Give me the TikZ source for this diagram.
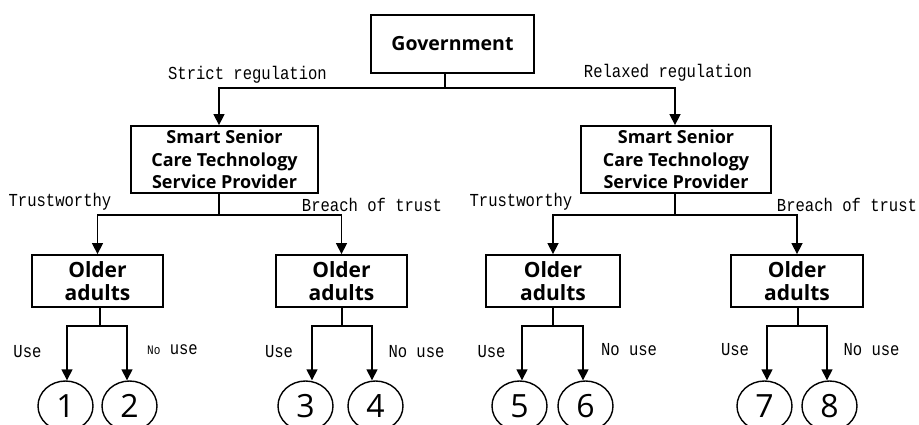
\documentclass[tikz,border=0pt]{standalone}
\usepackage{fontspec}
\usetikzlibrary{arrows.meta,shapes.geometric}
\newfontfamily\boxfont{Open Sans}
\newfontfamily\labfont{Liberation Mono}[FakeStretch=0.85]
\begin{document}
\begin{tikzpicture}[x=1pt,y=-1pt,
  box/.style={draw,line width=1.8pt,inner sep=0pt,align=center,
    font=\boxfont\bfseries\fontsize{18}{22.5}\selectfont},
  oval/.style={draw,ellipse,line width=1.4pt,minimum width=55pt,minimum height=50pt,inner sep=0pt,
    font=\boxfont\fontsize{32}{32}\selectfont},
  lab/.style={inner sep=0pt,font=\labfont\fontsize{18.3}{19}\selectfont},
  ln/.style={line width=1.5pt},
  arr/.style={line width=1.5pt,-{Triangle[length=11pt,width=11pt]}}]
\useasboundingbox (0,0) rectangle (919,425);
% nodes
\node[box,minimum width=163pt,minimum height=58pt,font=\boxfont\bfseries\fontsize{19.5}{22}\selectfont] (gov) at (452.5,44) {Government};
\node[box,minimum width=187pt,minimum height=67pt] (p1) at (224.5,159.5) {Smart Senior\\Care Technology\\Service Provider};
\node[box,minimum width=190pt,minimum height=67pt] (p2) at (676,159.5) {Smart Senior\\Care Technology\\Service Provider};
\tikzset{older/.style={box,minimum height=52pt,font=\boxfont\bfseries\fontsize{21}{23}\selectfont}}
\node[older,minimum width=131pt] (o1) at (97.5,281) {Older\\adults};
\node[older,minimum width=131pt] (o2) at (341.5,281) {Older\\adults};
\node[older,minimum width=134pt] (o3) at (553,281) {Older\\adults};
\node[older,minimum width=132pt] (o4) at (797,281) {Older\\adults};
\node[oval] (e1) at (65.5,406) {1};
\node[oval] (e2) at (129.5,406) {2};
\node[oval] (e3) at (305.5,406) {3};
\node[oval] (e4) at (375.5,406) {4};
\node[oval] (e5) at (519.5,406) {5};
\node[oval] (e6) at (585.5,406) {6};
\node[oval] (e7) at (764.5,406) {7};
\node[oval] (e8) at (829.5,406) {8};
% junctions
\coordinate (jg) at (445,88);
\coordinate (jp1) at (219,215);
\coordinate (jp2) at (675,215);
\coordinate (jo1) at (100,326);
\coordinate (jo2) at (342,326);
\coordinate (jo3) at (553,326);
\coordinate (jo4) at (798,326);
% connectors
\draw[ln] (gov.south -| jg) -- (jg);
\draw[arr] (jg) -| (p1.north -| jp1);
\draw[arr] (jg) -| (p2.north -| jp2);
\draw[ln] (p1.south -| jp1) -- (jp1);
\draw[arr] (jp1) -| (o1.north);
\draw[arr] (jp1) -| (o2.north);
\draw[ln] (p2.south -| jp2) -- (jp2);
\draw[arr] (jp2) -| (o3.north);
\draw[arr] (jp2) -| (o4.north);
\draw[ln] (o1.south -| jo1) -- (jo1);
\draw[arr] (jo1) -| (e1.north -| 67,0);
\draw[arr] (jo1) -| (e2.north -| 127,0);
\draw[ln] (o2.south -| jo2) -- (jo2);
\draw[arr] (jo2) -| (e3.north -| 312,0);
\draw[arr] (jo2) -| (e4.north -| 372,0);
\draw[ln] (o3.south -| jo3) -- (jo3);
\draw[arr] (jo3) -| (e5.north -| 522,0);
\draw[arr] (jo3) -| (e6.north -| 583,0);
\draw[ln] (o4.south -| jo4) -- (jo4);
\draw[arr] (jo4) -| (e7.north -| 767,0);
\draw[arr] (jo4) -| (e8.north -| 827,0);
% labels
\node[lab] (l1) at (247.5,75) {Strict regulation};
\node[lab] (l2) at (668,73) {Relaxed regulation};
\node[lab] (l3) at (60,202) {Trustworthy};
\node[lab] (l4) at (372,205) {Breach of trust};
\node[lab] (l5) at (521,202) {Trustworthy};
\node[lab] (l6) at (847,205) {Breach of trust};
\node[lab] (u1) at (27.5,352) {Use};
\node[lab] (n1) at (172.5,350) {{\fontsize{13}{13}\selectfont No} use};
\node[lab] (u2) at (279,352) {Use};
\node[lab] (n2) at (416.5,352) {No use};
\node[lab] (u3) at (491.5,352) {Use};
\node[lab] (n3) at (629,350) {No use};
\node[lab] (u4) at (735,350) {Use};
\node[lab] (n4) at (871.5,350) {No use};
\end{tikzpicture}
\end{document}
